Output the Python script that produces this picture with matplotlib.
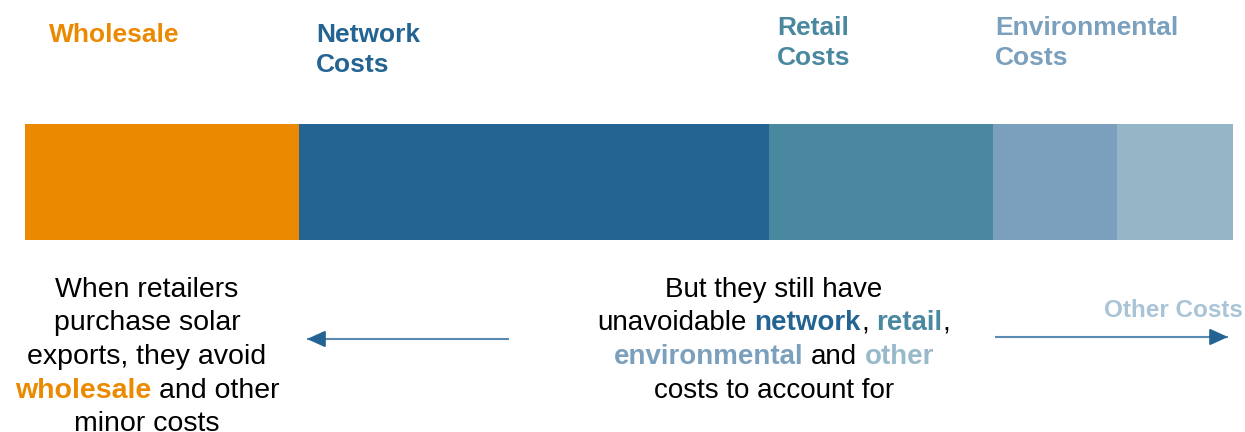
import matplotlib
matplotlib.use("Agg")
import matplotlib.pyplot as plt

plt.rcParams['font.family'] = ['Liberation Sans', 'DejaVu Sans']

# cost components of the bill (share of total, %)
categories = ["Wholesale", "Network Costs", "Retail Costs", "Environmental Costs", "Other Costs"]
shares = [22.7, 38.9, 18.5, 10.3, 9.6]
bar_colors = ["#EB8A00", "#246492", "#4A88A0", "#7BA0BD", "#94B6C6"]

# header labels above the bar
header_lines = [["Wholesale"], ["Network", "Costs"], ["Retail", "Costs"], ["Environmental", "Costs"]]
header_colors = ["#EB8A00", "#246492", "#4A88A0", "#7BA0BD"]
header_x = [49, 316, 777, 995]
header_y = [42, 42, 35, 35]

BLACK = "#000000"
left_text = [
    [("When retailers", BLACK, "normal")],
    [("purchase solar", BLACK, "normal")],
    [("exports, they avoid", BLACK, "normal")],
    [("wholesale", "#EB8A00", "bold"), (" and other", BLACK, "normal")],
    [("minor costs", BLACK, "normal")],
]
right_text = [
    [("But they still have", BLACK, "normal")],
    [("unavoidable", BLACK, "normal"), (" network", "#246492", "bold"), (",", BLACK, "normal"),
     (" retail", "#4A88A0", "bold"), (",", BLACK, "normal")],
    [("environmental", "#7BA0BD", "bold"), (" and", BLACK, "normal"), (" other", "#97B9CA", "bold")],
    [("costs to account for", BLACK, "normal")],
]

W, H = 1245, 432
fig = plt.figure(figsize=(W / 100, H / 100), dpi=100)

# stacked bar
bx = fig.add_axes([25 / W, (H - 240) / H, 1208 / W, 116 / H])
left = 0
for cat, val, col in zip(categories, shares, bar_colors):
    bx.barh(0, val, left=left, height=1, color=col, label=cat)
    left += val
bx.set_xlim(0, sum(shares))
bx.set_ylim(-0.5, 0.5)
bx.axis('off')

# overlay in pixel coordinates for the annotations
ov = fig.add_axes([0, 0, 1, 1])
ov.set_xlim(0, W)
ov.set_ylim(H, 0)
ov.axis('off')

for lines, col, x, y in zip(header_lines, header_colors, header_x, header_y):
    for i, s in enumerate(lines):
        ov.text(x, y + i * 30, s, color=col, fontsize=19, fontweight='bold', va='baseline', ha='left')

renderer = fig.canvas.get_renderer()


def text_width(s, size, weight):
    t = ov.text(0, 0, s, fontsize=size, fontweight=weight)
    w = t.get_window_extent(renderer).width
    t.remove()
    return w


def centered_line(xc, y, parts, size):
    items = []
    for s, c, wt in parts:
        gap = 0
        if s.startswith(" "):
            gap = text_width("x x", size, wt) - text_width("xx", size, wt)
            s = s.lstrip()
        t = ov.text(0, y, s, color=c, fontsize=size, fontweight=wt, va='baseline', ha='left')
        items.append((t, gap, t.get_window_extent(renderer).width))
    total = sum(g + w for _, g, w in items)
    x = xc - total / 2
    for t, g, w in items:
        x += g
        t.set_x(x)
        x += w


for i, parts in enumerate(left_text):
    centered_line(147, 297 + i * 33.5, parts, 20.5)
for i, parts in enumerate(right_text):
    centered_line(774, 297 + i * 33.5, parts, 20)

ov.text(1243, 317, "Other Costs", color="#A9C4D6", fontsize=17.5, fontweight='bold',
        va='baseline', ha='right')

# arrows: lighter shaft, dark head
for x0, x1, y in [(509, 307, 339), (995, 1228, 337)]:
    ov.plot([x0, x1], [y, y], color="#5A8AB2", lw=1.5, solid_capstyle='butt')
    d = 1 if x1 > x0 else -1
    ov.annotate("", xy=(x1, y), xytext=(x1 - d * 16, y),
                arrowprops=dict(arrowstyle="-|>,head_length=0.55,head_width=0.25",
                                color="#246492", lw=1.5, mutation_scale=20,
                                shrinkA=0, shrinkB=0))

fig.savefig("out.png", dpi=100)
